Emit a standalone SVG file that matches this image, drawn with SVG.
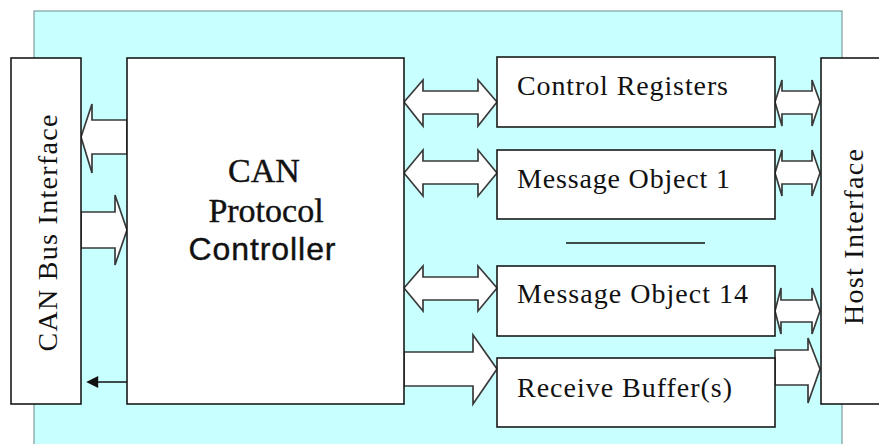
<svg xmlns="http://www.w3.org/2000/svg" width="879" height="444" viewBox="0 0 879 444">
  <style>
    .box { fill: #ffffff; stroke: #1a1a1a; stroke-width: 1.6; }
    .arrow { fill: #ffffff; stroke: #3a3a3a; stroke-width: 1.7; stroke-linejoin: miter; }
    .lbl { font-family: "Liberation Serif", "Times New Roman", serif; font-size: 28px; fill: #111111; }
    .title { font-family: "Liberation Serif", "Times New Roman", serif; font-size: 34px; fill: #111111; stroke: #111111; stroke-width: 0.4; text-anchor: middle; }
    .title-sans { font-family: "Liberation Sans", Arial, sans-serif; font-size: 32px; fill: #111111; stroke: #111111; stroke-width: 0.4; text-anchor: middle; }
  </style>
  <defs>
    <marker id="tri" viewBox="0 0 10 10" refX="1" refY="5" markerWidth="15" markerHeight="12" markerUnits="userSpaceOnUse" orient="auto-start-reverse">
      <path d="M0,0 L10,5 L0,10 Z" fill="#111111"/>
    </marker>
  </defs>

  <rect width="879" height="444" fill="#ffffff"/>
  <!-- CAN module area -->
  <rect id="module" x="34" y="11" width="808" height="450" fill="#c8ffff" stroke="#7f9c9c" stroke-width="1.2"/>

  <!-- Connectors -->
  <g id="connectors">
    <!-- Protocol controller to CAN bus interface -->
    <path class="arrow" d="M81,137 L92,104 L92,120 L127,120 L127,154 L92,154 L92,173 Z"/>
    <!-- CAN bus interface to protocol controller -->
    <path class="arrow" d="M81,212 L115,212 L115,195 L127,230 L115,265 L115,248 L81,248 Z"/>
    <!-- single signal line -->
    <line x1="127" y1="382" x2="97" y2="382" stroke="#111111" stroke-width="1.5" marker-end="url(#tri)"/>

    <!-- Controller <-> message RAM -->
    <path class="arrow" d="M404,102 L423,80 L423,91 L478,91 L478,80 L497,102 L478,126 L478,114 L423,114 L423,126 Z"/>
    <path class="arrow" d="M404,173 L423,150 L423,161 L478,161 L478,150 L497,173 L478,196 L478,184 L423,184 L423,196 Z"/>
    <path class="arrow" d="M404,288 L423,266 L423,277 L478,277 L478,266 L497,288 L478,311 L478,300 L423,300 L423,311 Z"/>
    <path class="arrow" d="M404,352 L473,352 L473,335 L497,369 L473,404 L473,386 L404,386 Z"/>

    <!-- message RAM <-> host interface -->
    <path class="arrow" d="M775,102 L782,80 L782,91 L812,91 L812,80 L820,102 L812,126 L812,114 L782,114 L782,126 Z"/>
    <path class="arrow" d="M775,173 L782,150 L782,161 L812,161 L812,150 L820,173 L812,196 L812,184 L782,184 L782,196 Z"/>
    <path class="arrow" d="M775,311 L781,288 L781,300 L812,300 L812,288 L820,311 L812,334 L812,322 L781,322 L781,334 Z"/>
    <path class="arrow" d="M775,350 L808,350 L808,338 L820,369 L808,403 L808,385 L775,385 Z"/>

    <!-- ellipsis divider between message objects -->
    <line x1="566" y1="243" x2="705" y2="243" stroke="#111111" stroke-width="1.6"/>
  </g>

  <!-- CAN bus interface -->
  <g id="can-bus-interface">
    <rect class="box" x="11" y="58" width="70" height="346"/>
    <text class="lbl" transform="translate(57,233) rotate(-90)" text-anchor="middle" textLength="237" lengthAdjust="spacing">CAN Bus Interface</text>
  </g>

  <!-- CAN protocol controller -->
  <g id="protocol-controller">
    <rect class="box" x="127" y="58" width="277" height="346"/>
    <text class="title" x="264" y="182">CAN</text>
    <text class="title" x="266" y="222">Protocol</text>
    <text class="title-sans" x="262" y="260" textLength="147" lengthAdjust="spacing">Controller</text>
  </g>

  <!-- Message RAM blocks -->
  <g id="control-registers">
    <rect class="box" x="497" y="57" width="278" height="70"/>
    <text class="lbl" x="517" y="95" textLength="211" lengthAdjust="spacing">Control Registers</text>
  </g>
  <g id="message-object-1">
    <rect class="box" x="497" y="150" width="278" height="69"/>
    <text class="lbl" x="517" y="188" textLength="213" lengthAdjust="spacing">Message Object 1</text>
  </g>
  <g id="message-object-14">
    <rect class="box" x="497" y="266" width="278" height="70"/>
    <text class="lbl" x="517" y="303" textLength="231" lengthAdjust="spacing">Message Object 14</text>
  </g>
  <g id="receive-buffers">
    <rect class="box" x="497" y="358" width="278" height="69"/>
    <text class="lbl" x="517" y="397" textLength="215" lengthAdjust="spacing">Receive Buffer(s)</text>
  </g>

  <!-- Host interface -->
  <g id="host-interface">
    <rect class="box" x="821" y="58" width="70" height="346"/>
    <text class="lbl" transform="translate(863,237) rotate(-90)" text-anchor="middle" textLength="176" lengthAdjust="spacing">Host Interface</text>
  </g>
</svg>
